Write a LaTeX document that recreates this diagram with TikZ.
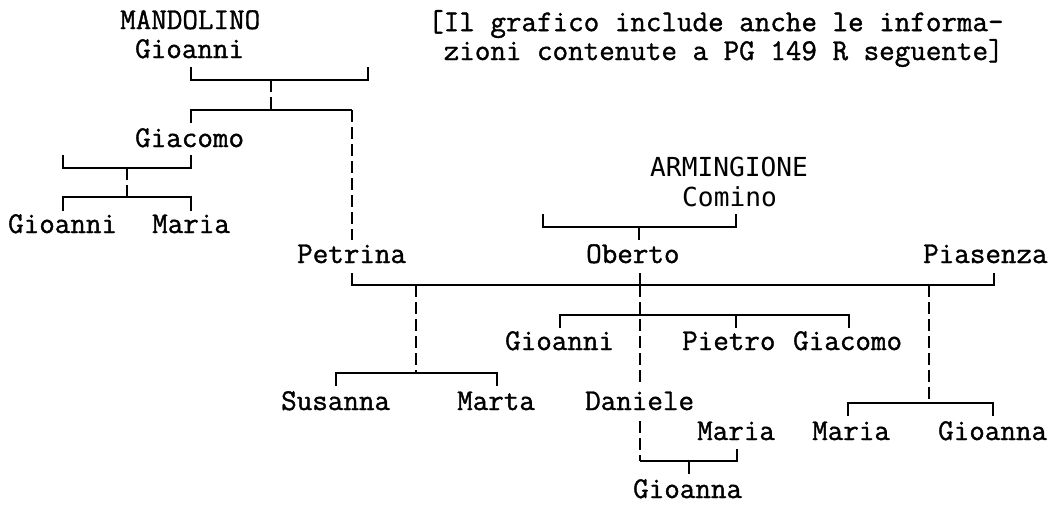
\documentclass[tikz,border=0pt]{standalone}
\usepackage{fontspec}
\newfontfamily\refmono[FakeBold=1.2]{Latin Modern Mono}
\newfontfamily\sansmono{DejaVu Sans Mono}
\tikzset{
  txt/.style={anchor=base west, inner sep=0pt, font=\refmono\fontsize{30.2}{32}\selectfont},
  stxt/.style={anchor=base west, inner sep=0pt, font=\sansmono\fontsize{26.2}{28}\selectfont},
  link/.style={line width=1.7pt, black},
  dlink/.style={line width=1.7pt, black, dash pattern=on 12pt off 5pt},
}
\begin{document}
\begin{tikzpicture}[x=1pt,y=-1pt]
\useasboundingbox (0,0) rectangle (1053,504);
% texts
\node[txt] (mand) at (120,29) {MANDOLINO};
\node[txt] (gio0) at (135,58) {Gioanni};
\node[txt, align=left, font=\refmono\fontsize{30.2}{27}\selectfont] (note) at (428,60)
  {[Il grafico include anche le informa-\\\hphantom{x}zioni contenute a PG 149 R seguente]};
\node[txt] (giac0) at (135,147) {Giacomo};
\node[txt] (gio1) at (8,233) {Gioanni};
\node[txt] (mar1) at (152,233) {Maria};
\node[stxt] (arm) at (650,176) {ARMINGIONE};
\node[stxt] (com) at (682,206) {Comino};
\node[txt] (obe) at (586,263) {Oberto};
\node[txt] (pet) at (297,263) {Petrina};
\node[txt] (pia) at (923,263) {Piasenza};
\node[txt] (gio2) at (505,350) {Gioanni};
\node[txt] (pie) at (682,350) {Pietro};
\node[txt] (giac1) at (793,350) {Giacomo};
\node[txt] (sus) at (281,410) {Susanna};
\node[txt] (mrt) at (457,410) {Marta};
\node[txt] (dan) at (585,410) {Daniele};
\node[txt] (mar2) at (697,440) {Maria};
\node[txt] (mar3) at (812,440) {Maria};
\node[txt] (gio3) at (938,440) {Gioanna};
\node[txt] (gio4) at (633,498) {Gioanna};
% junction coordinates
\coordinate (a1) at (191,67);  \coordinate (a2) at (191,80);
\coordinate (a3) at (368,80);  \coordinate (a4) at (368,67);
\coordinate (a5) at (271,80);  \coordinate (a6) at (271,110);
\coordinate (b1) at (191,123); \coordinate (b2) at (191,110);
\coordinate (b3) at (352,110); \coordinate (b4) at (352,240);
\coordinate (c1) at (63,155);  \coordinate (c2) at (63,168);
\coordinate (c3) at (191,168); \coordinate (c4) at (191,155);
\coordinate (c5) at (127,168); \coordinate (c6) at (127,197);
\coordinate (d1) at (63,211);  \coordinate (d2) at (63,197);
\coordinate (d3) at (191,197); \coordinate (d4) at (191,211);
\coordinate (e1) at (543,214); \coordinate (e2) at (543,227);
\coordinate (e3) at (736,227); \coordinate (e4) at (736,214);
\coordinate (e5) at (639,227); \coordinate (e6) at (639,240);
\coordinate (f1) at (352,273); \coordinate (f2) at (352,285);
\coordinate (f3) at (994,285); \coordinate (f4) at (994,273);
\coordinate (f5) at (640,273); \coordinate (f6) at (640,285);
\coordinate (g1) at (560,328); \coordinate (g2) at (560,315);
\coordinate (g3) at (849,315); \coordinate (g4) at (849,328);
\coordinate (g5) at (736,315); \coordinate (g6) at (736,328);
\coordinate (g7) at (640,386); \coordinate (g8) at (640,421);
\coordinate (h1) at (640,461); \coordinate (h2) at (737,461);
\coordinate (h3) at (737,449); \coordinate (h4) at (689,461);
\coordinate (h5) at (689,474);
\coordinate (i1) at (416,285); \coordinate (i2) at (416,373);
\coordinate (i3) at (336,386); \coordinate (i4) at (336,373);
\coordinate (i5) at (497,373); \coordinate (i6) at (497,386);
\coordinate (j1) at (929,285); \coordinate (j2) at (929,403);
\coordinate (j3) at (848,416); \coordinate (j4) at (848,403);
\coordinate (j5) at (993,403); \coordinate (j6) at (993,416);
% connectors
\draw[link] (a1) -- (a2) -- (a3) -- (a4);
\draw[dlink] (a5) -- (a6);
\draw[link] (b1) -- (b2) -- (b3);
\draw[dlink] (b3) -- (b4);
\draw[link] (c1) -- (c2) -- (c3) -- (c4);
\draw[dlink] (c5) -- (c6);
\draw[link] (d1) -- (d2) -- (d3) -- (d4);
\draw[link] (e1) -- (e2) -- (e3) -- (e4);
\draw[link] (e5) -- (e6);
\draw[link] (f1) -- (f2) -- (f3) -- (f4);
\draw[link] (f5) -- (f6);
\draw[link] (g1) -- (g2) -- (g3) -- (g4);
\draw[link] (g5) -- (g6);
\draw[dlink] (f6) -- (g7);
\draw[dlink] (g8) -- (h1);
\draw[link] (h1) -- (h2) -- (h3);
\draw[link] (h4) -- (h5);
\draw[dlink] (i1) -- (i2);
\draw[link] (i3) -- (i4) -- (i5) -- (i6);
\draw[dlink] (j1) -- (j2);
\draw[link] (j3) -- (j4) -- (j5) -- (j6);
\end{tikzpicture}
\end{document}
